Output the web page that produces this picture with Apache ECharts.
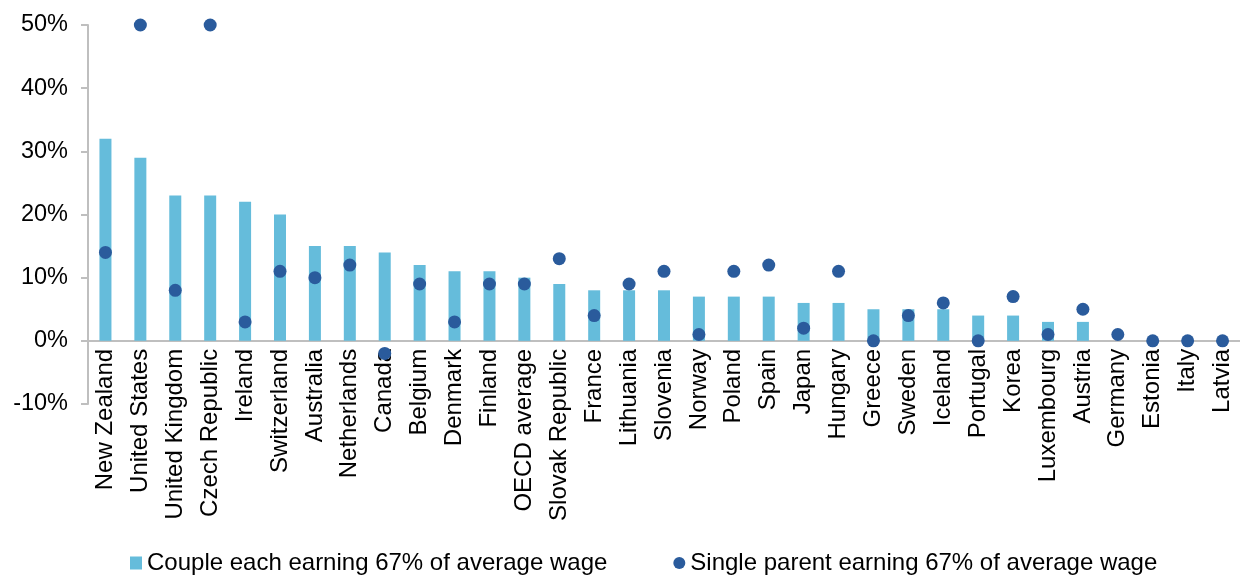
<!DOCTYPE html>
<html>
<head>
<meta charset="utf-8">
<script src="https://cdn.jsdelivr.net/npm/echarts@6/dist/echarts.min.js"></script>
<style>
html,body{margin:0;padding:0;background:#fff;}
#chart{width:1240px;height:575px;}
</style>
</head>
<body>
<div id="chart"></div>
<script>
const categories = ["New Zealand","United States","United Kingdom","Czech Republic","Ireland","Switzerland","Australia","Netherlands","Canada","Belgium","Denmark","Finland","OECD average","Slovak Republic","France","Lithuania","Slovenia","Norway","Poland","Spain","Japan","Hungary","Greece","Sweden","Iceland","Portugal","Korea","Luxembourg","Austria","Germany","Estonia","Italy","Latvia"];
const coupleValues = [32,29,23,23,22,20,15,15,14,12,11,11,10,9,8,8,8,7,7,7,6,6,5,5,5,4,4,3,3,0,0,0,0];
const singleValues = [14,50,8,50,3,11,10,12,-2,9,3,9,9,13,4,9,11,1,11,12,2,11,0,4,6,0,7,1,5,1,0,0,0];
const seriesNames = ["Couple each earning 67% of average wage","Single parent earning 67% of average wage"];
const yMin = -10, yMax = 50, yStep = 10;

const FONT = "'Liberation Sans', Arial, sans-serif";
const W = 1240, H = 575, gridTop = 25, gridBottom = 171;
const plotH = H - gridTop - gridBottom;
// move category axis (line + labels) up to the zero line
const zeroOffset = -plotH * (0 - yMin) / (yMax - yMin);

const chart = echarts.init(document.getElementById('chart'), null, {renderer:'canvas'});
chart.setOption({
  animation:false,
  backgroundColor:'#ffffff',
  textStyle:{fontFamily:FONT},
  grid:{left:88, top:gridTop, bottom:gridBottom, right:-10, containLabel:false},
  legend:{
    left:125, top:546, itemWidth:12, itemHeight:13, itemGap:66,
    textStyle:{fontFamily:FONT, fontSize:24, color:'#000'},
    data:[{name:seriesNames[0], icon:'rect'},{name:seriesNames[1], icon:'circle'}]
  },
  xAxis:{
    type:'category', data:categories, position:'bottom', offset:zeroOffset,
    axisLine:{show:true, onZero:false, lineStyle:{color:'#BFBFBF', width:2}},
    axisTick:{show:false},
    axisLabel:{rotate:90, interval:0, margin:8, fontFamily:FONT, fontSize:24, color:'#000'}
  },
  yAxis:{
    type:'value', min:yMin, max:yMax, interval:yStep,
    axisLine:{show:true, lineStyle:{color:'#BFBFBF', width:2}},
    axisTick:{show:true, length:7, lineStyle:{color:'#BFBFBF', width:2}},
    splitLine:{show:false},
    axisLabel:{formatter:'{value}%', margin:20, fontFamily:FONT, fontSize:23.5, color:'#000'}
  },
  series:[
    {name:seriesNames[0], type:'bar', data:coupleValues, barWidth:12,
     itemStyle:{color:'#65BCDB'}},
    {name:seriesNames[1], type:'scatter', data:singleValues, symbol:'circle', symbolSize:13, clip:false,
     itemStyle:{color:'#2A5B9C', opacity:1}, z:5}
  ]
});
</script>
</body>
</html>
